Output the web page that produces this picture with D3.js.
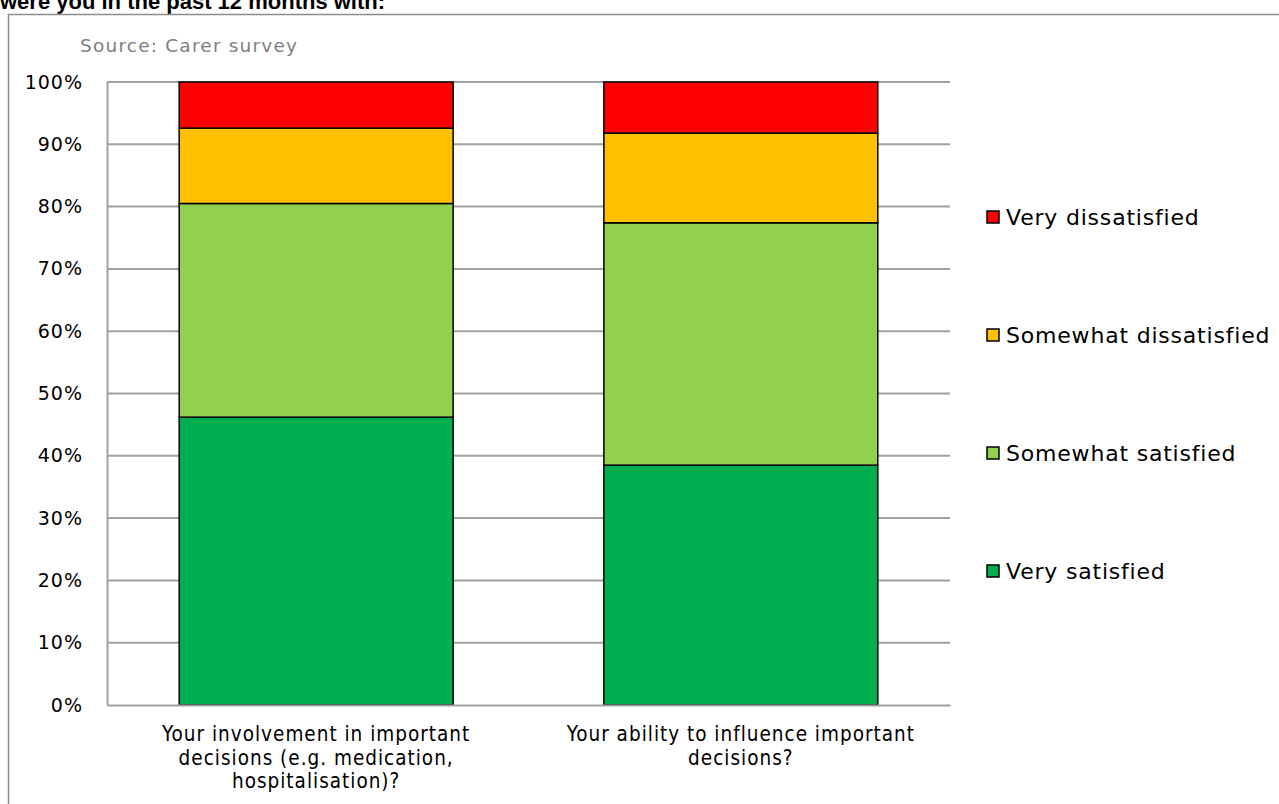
<!DOCTYPE html>
<html>
<head>
<meta charset="utf-8">
<script src="https://cdn.jsdelivr.net/npm/d3@7"></script>
<style>
  body { margin: 0; background: #fff; }
  svg { display: block; }
</style>
</head>
<body>
<div id="chart"></div>
<script>
// ---- data ----
const categories = [
    ["Your involvement in important", "decisions (e.g. medication,", "hospitalisation)?"],
    ["Your ability to influence important", "decisions?"]
];
const seriesNames = ["Very satisfied", "Somewhat satisfied", "Somewhat dissatisfied", "Very dissatisfied"];
const verySatisfied = [46.2, 38.5];
const somewhatSatisfied = [34.3, 38.9];
const somewhatDissatisfied = [12.1, 14.4];
const veryDissatisfied = [7.4, 8.2];
const yTicks = [0, 10, 20, 30, 40, 50, 60, 70, 80, 90, 100];
const colors = ["#00B050", "#92D050", "#FFC000", "#FF0000"];

// svg size
let width = 1279;
let height = 804;

let svg = d3.select("#chart").append("svg")
    .attr("width", width).attr("height", height);

// plot area
var plot = { left: 107, right: 950, top: 82, bottom: 705 };

// title (cut off at top like the original)
svg.append("text")
    .attr("x", 0).attr("y", 9)
    .attr("font-family", "Liberation Sans, Arial, sans-serif")
    .attr("font-weight", "bold")
    .attr("font-size", 22)
    .attr("fill", "#000")
    .text("were you in the past 12 months with:");

// outer frame
svg.append("rect")
    .attr("x", 8.5).attr("y", 14.5)
    .attr("width", 1300).attr("height", 900)
    .attr("fill", "none")
    .attr("stroke", "#8c8c8c")
    .attr("stroke-width", 1.5);

svg.append("text")
    .attr("x", 80).attr("y", 52)
    .attr("font-family", "DejaVu Sans, Verdana, sans-serif")
    .attr("font-size", 18.5)
    .attr("letter-spacing", 1.2)
    .attr("fill", "#808080")
    .text("Source: Carer survey");

// build stacked data
const keys = d3.range(seriesNames.length);
const table = categories.map((c, i) => ({
    idx: i,
    0: verySatisfied[i], 1: somewhatSatisfied[i], 2: somewhatDissatisfied[i], 3: veryDissatisfied[i]
}));
const stacked = d3.stack().keys(keys)(table);

// scales
var xScale = d3.scaleBand()
    .domain(d3.range(categories.length))
    .range([plot.left, plot.right])
    .paddingInner(0.355)
    .paddingOuter(0.17);

var yScale = d3.scaleLinear()
    .domain([0, 100])
    .range([plot.bottom, plot.top]);

// gridlines
svg.append("g").selectAll("line")
    .data(yTicks.filter(d => d > 0))
    .enter().append("line")
    .attr("x1", plot.left).attr("x2", plot.right)
    .attr("y1", d => yScale(d)).attr("y2", d => yScale(d))
    .attr("stroke", "#a0a0a0").attr("stroke-width", 2);

// y axis
let yAxis = d3.axisLeft(yScale).tickValues(yTicks).tickSize(0).tickPadding(24)
    .tickFormat(d => d + "%");
let yG = svg.append("g").attr("transform", `translate(${plot.left},0)`).call(yAxis);
yG.select(".domain").attr("stroke", "#a0a0a0").attr("stroke-width", 2);
yG.selectAll("text")
    .attr("font-family", "DejaVu Sans, Verdana, sans-serif")
    .attr("font-size", 19)
    .attr("letter-spacing", 1)
    .attr("fill", "#000");

// bars
svg.append("g").selectAll("g")
    .data(stacked)
    .enter().append("g")
    .attr("fill", (d, i) => colors[i])
    .selectAll("rect")
    .data(d => d)
    .enter().append("rect")
    .attr("x", d => xScale(d.data.idx))
    .attr("y", d => yScale(d[1]))
    .attr("width", xScale.bandwidth())
    .attr("height", d => yScale(d[0]) - yScale(d[1]))
    .attr("stroke", "#000")
    .attr("stroke-width", 1.5);

// x axis line
let xAxis = d3.axisBottom(xScale).tickSize(0).tickFormat("");
let xG = svg.append("g").attr("transform", `translate(0,${plot.bottom})`).call(xAxis);
xG.select(".domain").attr("stroke", "#a0a0a0").attr("stroke-width", 2);

// category labels (multi-line)
svg.append("g").selectAll("text")
    .data(categories)
    .enter().append("text")
    .attr("x", (d, i) => xScale(i) + xScale.bandwidth() / 2)
    .attr("y", 741)
    .attr("text-anchor", "middle")
    .attr("font-family", "DejaVu Sans Condensed, DejaVu Sans, sans-serif")
    .attr("font-stretch", "condensed")
    .attr("font-size", 20.5)
    .attr("letter-spacing", 1)
    .attr("fill", "#000")
    .selectAll("tspan")
    .data(d => d)
    .enter().append("tspan")
    .attr("x", function () { return this.parentNode.getAttribute("x"); })
    .attr("dy", (d, i) => i === 0 ? 0 : 23.5)
    .text(d => d);

// legend (reverse order, top = very dissatisfied)
let legendY = d3.scalePoint()
    .domain(d3.range(seriesNames.length).reverse())
    .range([217, 571]);

let legend = svg.append("g").selectAll("g")
    .data(keys)
    .enter().append("g")
    .attr("transform", d => `translate(987, ${legendY(d)})`);

legend.append("rect")
    .attr("x", 0).attr("y", -6)
    .attr("width", 12).attr("height", 12)
    .attr("fill", d => colors[d])
    .attr("stroke", "#000").attr("stroke-width", 1.5);

legend.append("text")
    .attr("x", 19).attr("y", 8)
    .attr("font-family", "DejaVu Sans, Verdana, sans-serif")
    .attr("font-size", 22)
    .attr("letter-spacing", 0.8)
    .attr("fill", "#000")
    .text(d => seriesNames[d]);
</script>
</body>
</html>
